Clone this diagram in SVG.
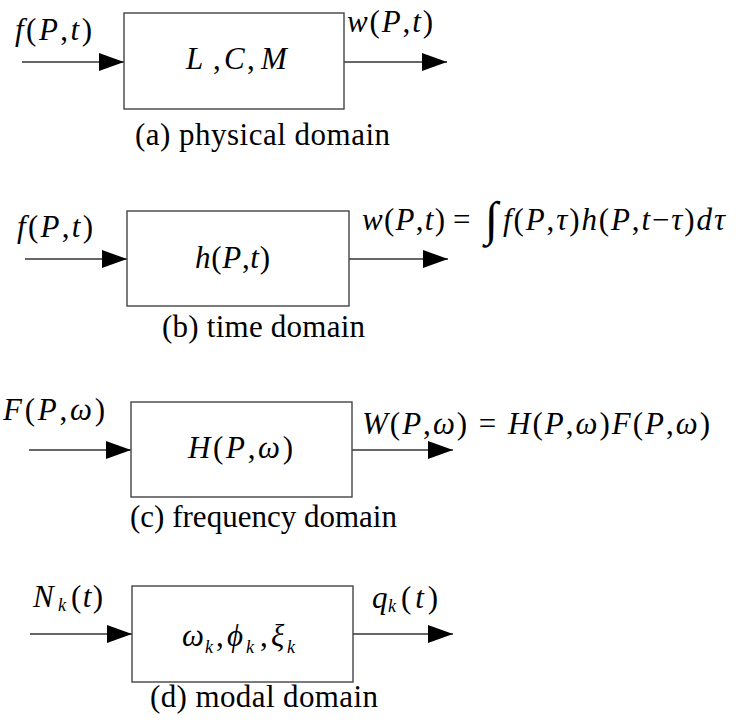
<svg xmlns="http://www.w3.org/2000/svg" width="741" height="725" viewBox="0 0 741 725">
<style>
.box{fill:#fff;stroke:#444;stroke-width:1.4}
.ln{stroke:#333;stroke-width:1.4;fill:none;marker-end:url(#ah)}
.m{font-family:"Liberation Serif","Times New Roman",serif;font-size:31px;font-style:italic;fill:#000}
.u{font-style:normal}
.s{font-family:"Liberation Serif","Times New Roman",serif;font-size:18px;font-style:italic;fill:#000}
.cap{font-family:"Liberation Serif","Times New Roman",serif;font-size:31px;fill:#000}
</style>
<defs>
<marker id="ah" markerUnits="userSpaceOnUse" markerWidth="26" markerHeight="20" refX="25" refY="9" orient="auto">
<path d="M0,0 L25,9 L0,18 Z" fill="#000"/>
</marker>
</defs>
<g id="connectors">
<line class="ln" x1="22" y1="62" x2="124" y2="62"/>
<line class="ln" x1="344" y1="62" x2="447" y2="62"/>
<line class="ln" x1="25" y1="259" x2="127" y2="259"/>
<line class="ln" x1="349" y1="259" x2="448" y2="259"/>
<line class="ln" x1="29" y1="450" x2="131" y2="450"/>
<line class="ln" x1="352" y1="450" x2="453" y2="450"/>
<line class="ln" x1="30" y1="634" x2="132" y2="634"/>
<line class="ln" x1="353" y1="634" x2="453" y2="634"/>
</g>
<g id="physical">
<rect class="box" x="124" y="13" width="220" height="96"/>
<text class="m" x="15" y="40" textLength="77" lengthAdjust="spacing">f<tspan class="u">(</tspan>P<tspan class="u">,</tspan>t<tspan class="u">)</tspan></text>
<text class="m" x="347" y="32" textLength="86" lengthAdjust="spacing">w<tspan class="u">(</tspan>P<tspan class="u">,</tspan>t<tspan class="u">)</tspan></text>
<text class="m" x="186" y="69">L</text>
<text class="m u" x="213" y="69">,</text>
<text class="m" x="224" y="69">C</text>
<text class="m u" x="247" y="69">,</text>
<text class="m" x="261" y="69">M</text>
<text class="cap" x="135" y="145" textLength="255" lengthAdjust="spacing">(a) physical domain</text>
</g>
<g id="time">
<rect class="box" x="127" y="211" width="222" height="95"/>
<text class="m" x="17" y="237" textLength="76" lengthAdjust="spacing">f<tspan class="u">(</tspan>P<tspan class="u">,</tspan>t<tspan class="u">)</tspan></text>
<text class="m" x="195" y="268" textLength="75" lengthAdjust="spacing">h<tspan class="u">(</tspan>P<tspan class="u">,</tspan>t<tspan class="u">)</tspan></text>
<text class="m" x="362" y="230" textLength="83" lengthAdjust="spacing">w<tspan class="u">(</tspan>P<tspan class="u">,</tspan>t<tspan class="u">)</tspan></text>
<text class="m u" x="453" y="230">=</text>
<text class="m u" x="485" y="235" style="font-size:48px">∫</text>
<text class="m" x="503" y="230" textLength="222" lengthAdjust="spacing">f<tspan class="u">(</tspan>P<tspan class="u">,</tspan>τ<tspan class="u">)</tspan>h<tspan class="u">(</tspan>P<tspan class="u">,</tspan>t<tspan class="u">−</tspan>τ<tspan class="u">)</tspan>dτ</text>
<text class="cap" x="162" y="337" textLength="203" lengthAdjust="spacing">(b) time domain</text>
</g>
<g id="frequency">
<rect class="box" x="131" y="402" width="221" height="95"/>
<text class="m" x="3" y="420" textLength="102" lengthAdjust="spacing">F<tspan class="u">(</tspan>P<tspan class="u">,</tspan>ω<tspan class="u">)</tspan></text>
<text class="m" x="188" y="458" textLength="105" lengthAdjust="spacing">H<tspan class="u">(</tspan>P<tspan class="u">,</tspan>ω<tspan class="u">)</tspan></text>
<text class="m" x="362" y="434" textLength="348" lengthAdjust="spacing">W<tspan class="u">(</tspan>P<tspan class="u">,</tspan>ω<tspan class="u">) = </tspan>H<tspan class="u">(</tspan>P<tspan class="u">,</tspan>ω<tspan class="u">)</tspan>F<tspan class="u">(</tspan>P<tspan class="u">,</tspan>ω<tspan class="u">)</tspan></text>
<text class="cap" x="130" y="527" textLength="267" lengthAdjust="spacing">(c) frequency domain</text>
</g>
<g id="modal">
<rect class="box" x="132" y="586" width="221" height="96"/>
<text class="m" x="33" y="607">N</text>
<text class="s" x="58" y="611">k</text>
<text class="m u" x="71" y="607" textLength="32" lengthAdjust="spacing">(<tspan class="m">t</tspan>)</text>
<text class="m" x="372" y="608">q</text>
<text class="s" x="388" y="612">k</text>
<text class="m u" x="401" y="608" textLength="37" lengthAdjust="spacing">(<tspan class="m">t</tspan>)</text>
<text class="m" x="182" y="646">ω</text>
<text class="s" x="205" y="653">k</text>
<text class="m u" x="216" y="646">,</text>
<text class="m" x="227" y="646">ϕ</text>
<text class="s" x="246" y="653">k</text>
<text class="m u" x="260" y="646">,</text>
<text class="m" x="271" y="646">ξ</text>
<text class="s" x="287" y="653">k</text>
<text class="cap" x="150" y="707" textLength="228" lengthAdjust="spacing">(d) modal domain</text>
</g>
</svg>
